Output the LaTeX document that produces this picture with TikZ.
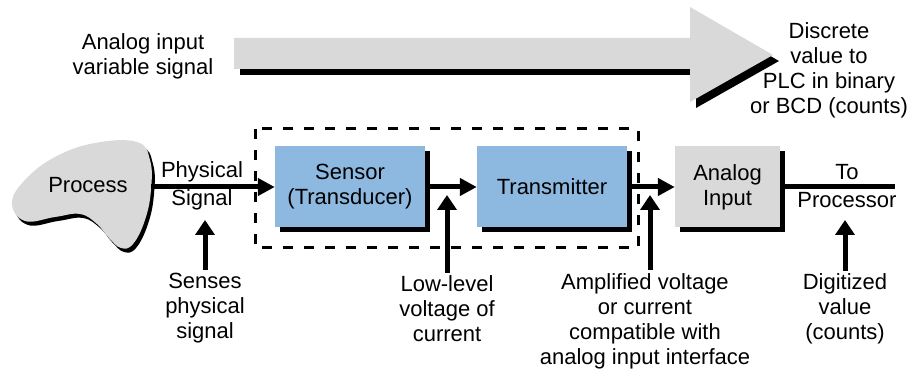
\documentclass[tikz,border=0pt]{standalone}
\usepackage{fontspec}
\setmainfont{Liberation Sans}
\usepackage{xcolor}
\usepackage{tikz}
\usetikzlibrary{positioning, arrows.meta, shadows}

\definecolor{blockblue}{RGB}{141,185,224}
\definecolor{blockgray}{RGB}{217,217,217}

\begin{document}
\begin{tikzpicture}[
  x=1pt, y=-1pt,
  font=\fontsize{22}{25}\selectfont,
  block/.style={rectangle, fill=blockblue, align=center,
                minimum width=150pt, minimum height=81pt, inner sep=0pt,
                drop shadow={shadow xshift=5pt, shadow yshift=-5pt, fill=black, opacity=1}},
  inputblock/.style={block, fill=blockgray, minimum width=105pt},
  lbl/.style={align=center, inner sep=3pt},
  sig/.style={line width=5pt},
  sigarrow/.style={sig, -{Triangle[length=17pt, width=17pt]}},
  uparrow/.style={sig, -{Triangle[length=15pt, width=19pt]}},
  dashbox/.style={line width=3pt, dash pattern=on 10pt off 11pt}
]
\useasboundingbox (0,0) rectangle (915,371);

% big arrow on top
\fill[black, shift={(6,6)}] (234,38) -- (690,38) -- (690,7) -- (773,55)
  -- (690,102) -- (690,69) -- (234,69) -- cycle;
\fill[blockgray] (234,38) -- (690,38) -- (690,7) -- (773,55)
  -- (690,102) -- (690,69) -- (234,69) -- cycle;
\node[lbl] (varsig) at (143,56) {Analog input\\variable signal};
\node[lbl] (discrete) at (829,70) {Discrete\\value to\\PLC in binary\\or BCD (counts)};

% process blob
\fill[black, shift={(3,4)}] plot[smooth cycle, tension=0.7] coordinates {
  (12,203) (25,180) (55,157) (95,143) (137,142) (150,160) (151,190)
  (145,220) (133,244) (121,248) (109,238) (97,224) (80,214) (55,217) (25,221)};
\fill[blockgray] plot[smooth cycle, tension=0.7] coordinates {
  (12,203) (25,180) (55,157) (95,143) (137,142) (150,160) (151,190)
  (145,220) (133,244) (121,248) (109,238) (97,224) (80,214) (55,217) (25,221)};
\node (process) at (88,185) {Process};
\coordinate (procout) at (151,187);

% signal chain
\draw[dashbox] (255,129) rectangle (638,248);
\node[block] (sensor) at (350,187) {Sensor\\(Transducer)};
\node[block] (trans) at (552,187) {Transmitter};
\node[inputblock] (adc) at (727.5,187) {Analog\\Input};
\coordinate (cpu) at (895,187);

\node[lbl] (physig) at (202,186) {Physical\\[3pt]Signal};
\node[lbl] (toproc) at (847,186) {To\\[3pt]Processor};

\draw[sigarrow] (procout) -- (sensor);
\draw[sigarrow] (sensor) -- (trans);
\draw[sigarrow] (trans) -- (adc);
\draw[sig] (adc) -- (cpu);

% notes below
\node[lbl] (senses) at (205,308) {Senses\\physical\\signal};
\node[lbl] (lowlvl) at (447,309) {Low-level\\voltage of\\current};
\node[lbl] (amp) at (645,321) {Amplified voltage\\or current\\compatible with\\analog input interface};
\node[lbl] (digit) at (845,309) {Digitized\\value\\(counts)};

\coordinate (sensestip) at (205,220);
\coordinate (lowtip) at (447,195);
\coordinate (amptip) at (650,195);
\coordinate (digittip) at (845,220);

\draw[uparrow] (senses.north -| sensestip) -- (sensestip);
\draw[uparrow] (lowlvl.north -| lowtip) -- (lowtip);
\draw[uparrow] (amp.north -| amptip) -- (amptip);
\draw[uparrow] (digit.north -| digittip) -- (digittip);
\end{tikzpicture}
\end{document}
